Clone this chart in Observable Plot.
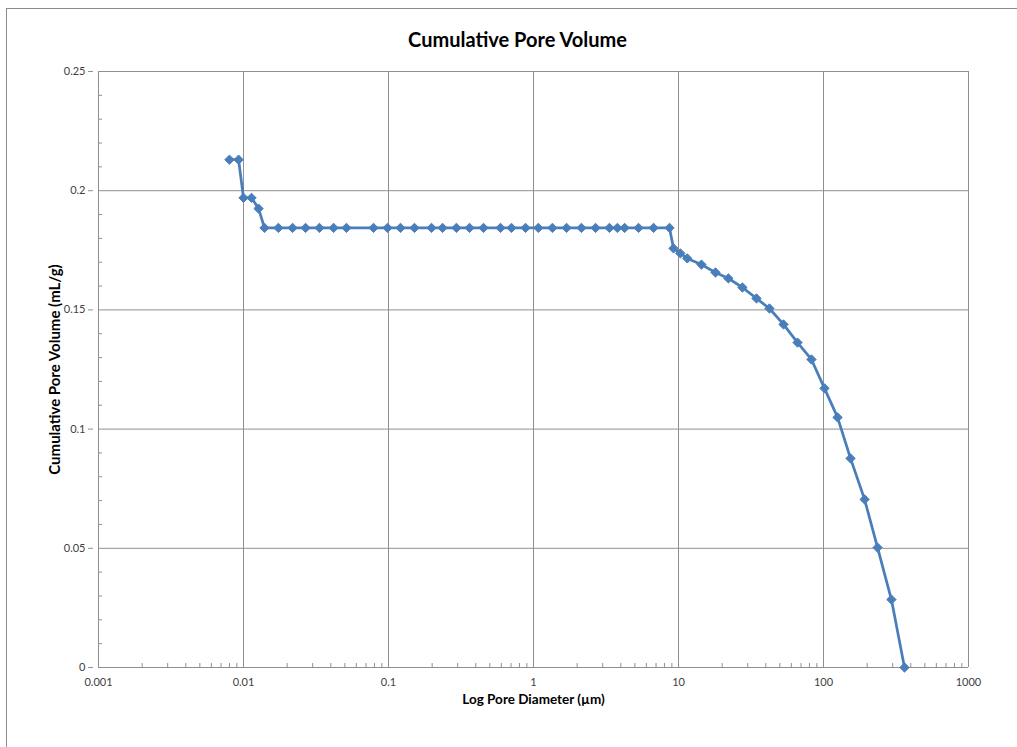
<!DOCTYPE html>
<html>
<head>
<meta charset="utf-8">
<script src="https://cdn.jsdelivr.net/npm/d3@7"></script>
<script src="https://cdn.jsdelivr.net/npm/@observablehq/plot@0.6"></script>
<style>
  html, body { margin: 0; padding: 0; background: #fff; overflow: hidden; width: 1017px; height: 747px; }
  #frame { position: absolute; left: 6px; top: 8px; width: 1100px; height: 800px; border: 1px solid #8c8c8c; box-sizing: border-box; }
  #chart { position: absolute; left: 0; top: 0; }
</style>
</head>
<body>
<div id="frame"></div>
<div id="chart"></div>
<script>
const title = "Cumulative Pore Volume";
const xLabel = "Log Pore Diameter (µm)";
const yLabel = "Cumulative Pore Volume (mL/g)";

// Pore diameter (µm)
const diameter = [
  0.0080, 0.00925, 0.0100, 0.01136, 0.0127,
  0.01396, 0.0174, 0.0218, 0.0268, 0.0334, 0.0418, 0.0513,
  0.0788, 0.0984, 0.121, 0.151, 0.198, 0.236, 0.294, 0.362, 0.452,
  0.592, 0.705, 0.881, 1.08, 1.35, 1.69, 2.14, 2.68, 3.34, 3.79,
  4.25, 5.30, 6.73, 8.67,
  9.24, 10.3, 11.5, 14.4, 18.0, 22.1, 27.6, 34.5, 42.4, 53.0,
  66.2, 82.6, 101.6, 125, 153.6, 192, 236, 294, 362
];
// Cumulative pore volume (mL/g)
const volume = [
  0.2130, 0.2130, 0.1970, 0.1970, 0.1925,
  0.1844, 0.1844, 0.1844, 0.1844, 0.1844, 0.1844, 0.1844,
  0.1844, 0.1844, 0.1844, 0.1844, 0.1844, 0.1844, 0.1844, 0.1844, 0.1844,
  0.1844, 0.1844, 0.1844, 0.1844, 0.1844, 0.1844, 0.1844, 0.1844, 0.1844, 0.1844,
  0.1844, 0.1844, 0.1844, 0.1844,
  0.1758, 0.1737, 0.1716, 0.1690, 0.1657, 0.1632, 0.1594, 0.1548, 0.1506, 0.1439,
  0.1363, 0.1292, 0.1171, 0.1049, 0.0877, 0.0705, 0.0503, 0.0285, 0.0
];

const xTicks = [0.001, 0.01, 0.1, 1, 10, 100, 1000];
const xTickLabels = ["0.001", "0.01", "0.1", "1", "10", "100", "1000"];
const yTicks = [0, 0.05, 0.1, 0.15, 0.2, 0.25];
const yTickLabels = ["0", "0.05", "0.1", "0.15", "0.2", "0.25"];

const data = diameter.map((d, i) => ({d, v: volume[i]}));
const xTickData = xTicks.map((x, i) => ({x, label: xTickLabels[i]}));
const yTickData = yTicks.map((y, i) => ({y, label: yTickLabels[i]}));
const xMinor = [];
for (let k = 0; k < 6; k++) for (let m = 2; m <= 9; m++) xMinor.push(m * xTicks[k]);
const yMinor = [];
for (let k = 0; k < 5; k++) for (let m = 1; m <= 4; m++) yMinor.push(+(yTicks[k] + m * 0.01).toFixed(3));

const font = "Lato, 'Open Sans', sans-serif";
const blue = "#4A7EBB";
const grid = "#8f8f8f";
const tickColor = "#404040";

const W = 1017, H = 747, mL = 98, mR = 49, mT = 71, mB = 80;

const chart = Plot.plot({
  width: W, height: H,
  marginLeft: mL, marginRight: mR, marginTop: mT, marginBottom: mB,
  style: {fontFamily: font, background: "transparent", overflow: "visible"},
  x: {type: "log", domain: [0.001, 1000], axis: null},
  y: {domain: [0, 0.25], axis: null},
  marks: [
    Plot.ruleX(xTicks, {x: d => d, stroke: grid, strokeWidth: 1}),
    Plot.ruleY(yTicks, {y: d => d, stroke: grid, strokeWidth: 1}),
    Plot.tickX(xMinor, {x: d => d, stroke: grid, strokeWidth: 1, insetTop: H - mT - mB - 4}),
    Plot.tickY(yMinor, {y: d => d, stroke: grid, strokeWidth: 1, insetRight: W - mL - mR - 4}),
    Plot.tickY(yTicks, {y: d => d, stroke: grid, strokeWidth: 1, insetRight: W - mL - mR, dx: -5, insetLeft: -5}),
    Plot.text(xTickData, {x: "x", frameAnchor: "bottom", dy: 18, text: "label", fontSize: 11, fill: tickColor}),
    Plot.text(yTickData, {y: "y", frameAnchor: "left", dx: -13, textAnchor: "end", text: "label", fontSize: 11, fill: tickColor}),
    Plot.line(data, {x: "d", y: "v", stroke: blue, strokeWidth: 2.75, strokeLinejoin: "round"}),
    Plot.dot(data, {x: "d", y: "v", symbol: "diamond2", r: 4.2, fill: blue, stroke: blue, strokeWidth: 1}),
    Plot.text([title], {frameAnchor: "top", dx: -16, dy: -39, fontSize: 20, fontWeight: "bold", fill: "#000"}),
    Plot.text([xLabel], {frameAnchor: "bottom", dy: 36, fontSize: 13.5, fontWeight: "bold", fill: "#000"}),
    Plot.text([yLabel], {frameAnchor: "left", dx: -43, rotate: -90, textAnchor: "middle", fontSize: 15, fontWeight: "bold", fill: "#000"})
  ]
});
document.getElementById("chart").appendChild(chart);
</script>
</body>
</html>
